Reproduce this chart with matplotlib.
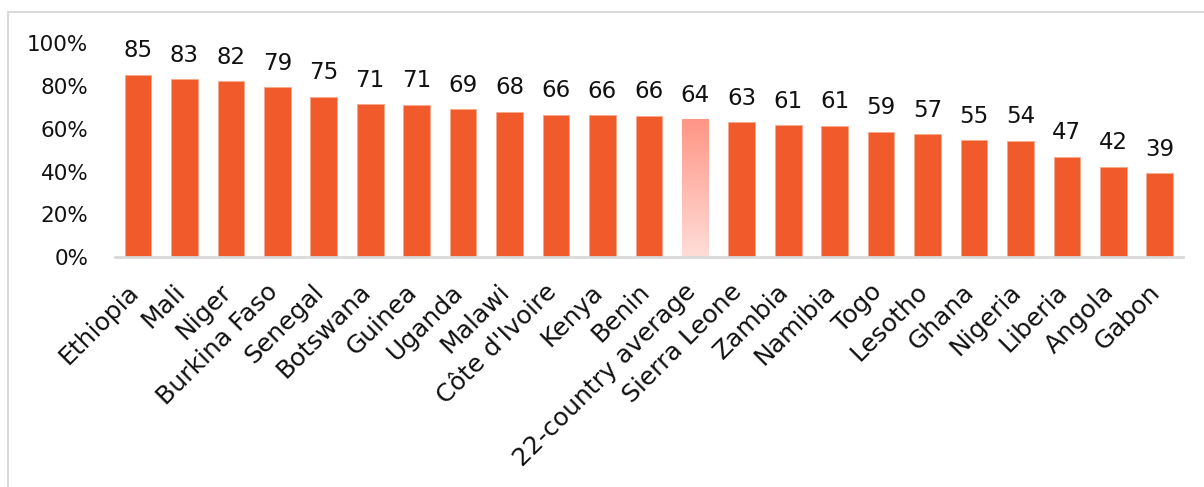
import matplotlib
matplotlib.use("Agg")
import matplotlib.pyplot as plt
import numpy as np
from matplotlib.patches import Rectangle
from matplotlib.colors import LinearSegmentedColormap

countries = ["Ethiopia", "Mali", "Niger", "Burkina Faso", "Senegal", "Botswana",
             "Guinea", "Uganda", "Malawi", "Côte d'Ivoire", "Kenya", "Benin",
             "22-country average", "Sierra Leone", "Zambia", "Namibia", "Togo",
             "Lesotho", "Ghana", "Nigeria", "Liberia", "Angola", "Gabon"]
values = [85.4, 83.2, 82.3, 79.4, 75.0, 71.6, 71.3, 69.2, 67.9, 66.5, 66.3, 66.1,
          64.6, 63.1, 61.6, 61.4, 58.7, 57.4, 54.7, 54.4, 47.1, 42.2, 39.3]
labels = [85, 83, 82, 79, 75, 71, 71, 69, 68, 66, 66, 66,
          64, 63, 61, 61, 59, 57, 55, 54, 47, 42, 39]
avg_name = "22-country average"
yticks = [0, 20, 40, 60, 80, 100]

plt.rcParams['font.family'] = ['DejaVu Sans']

W, H = 1204, 487
fig = plt.figure(figsize=(W / 100, H / 100), dpi=100)

# outer frame
fig.patches.append(Rectangle((8 / W, -0.1), 2.0, (H - 12) / H + 0.1, transform=fig.transFigure,
                             fill=False, edgecolor="#D9D9D9", linewidth=1.5))

left, right = 114.8 / W, 1183 / W
bottom, top = (H - 257.3) / H, (H - 43.3) / H
ax = fig.add_axes([left, bottom, right - left, top - bottom])

x = np.arange(len(countries))
bar_color = "#F15A2B"
colors = [bar_color] * len(countries)
bars = ax.bar(x, values, width=0.575, color=colors, edgecolor="#F8A98E", linewidth=0.6, zorder=2)

# gradient for the average bar
cmap = LinearSegmentedColormap.from_list("avg", ["#FFDDD8", "#FF9585"])
for b, name in zip(bars, countries):
    if name == avg_name:
        b.set_facecolor("none")
        b.set_edgecolor("none")
        x0, w, h = b.get_x(), b.get_width(), b.get_height()
        grad = np.linspace(0, 1, 256).reshape(-1, 1)
        im = ax.imshow(grad, extent=[x0, x0 + w, 0, h], origin="lower", aspect="auto",
                       cmap=cmap, zorder=2)
        im.set_clip_path(b)

for xi, v, lab in zip(x, values, labels):
    ax.annotate(str(lab), (xi, v), xytext=(0, 9), textcoords="offset points",
                ha="center", va="bottom", fontsize=16.5, color="#111111", annotation_clip=False)

# category labels, rotated 45 degrees
for xi, name in zip(x, countries):
    ax.annotate(name, (xi, 0), xytext=(-8.5, -16), textcoords="offset points",
                rotation=45, ha="right", va="top", rotation_mode="anchor",
                fontsize=18, color="#111111", annotation_clip=False)

ax.set_xlim(-0.5, len(countries) - 0.5)
ax.set_ylim(0, 100)
ax.set_yticks(yticks)
ax.set_yticklabels([f"{t}%" for t in yticks], fontsize=15.5, color="#111111")
ax.set_xticks(x)
ax.set_xticklabels([])
ax.tick_params(axis="both", length=0)
ax.tick_params(axis="y", pad=19)
for s in ["top", "right", "left"]:
    ax.spines[s].set_visible(False)
ax.spines["bottom"].set_color("#D9D9D9")
ax.spines["bottom"].set_linewidth(2)
ax.spines["bottom"].set_zorder(3)
ax.set_facecolor("none")

fig.savefig("out.png", dpi=100)
